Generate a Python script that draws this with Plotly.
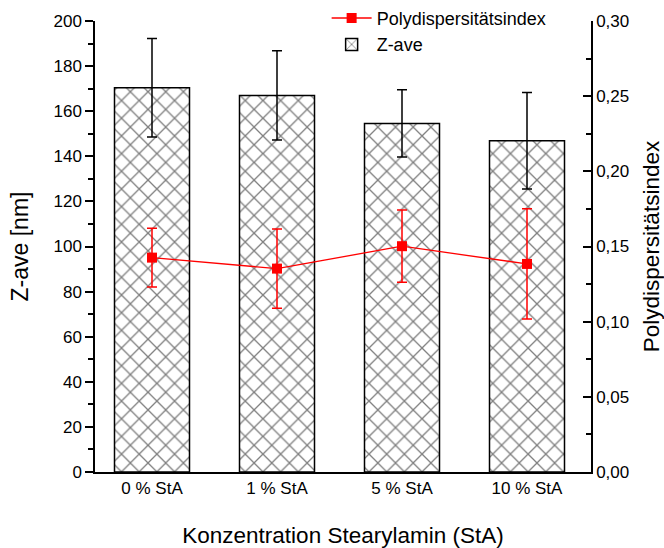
import plotly.graph_objects as go

categories = ["0 % StA", "1 % StA", "5 % StA", "10 % StA"]
zave = [170.4, 167.0, 154.6, 146.9]
zave_err = [21.8, 19.8, 14.9, 21.4]
pdi = [0.1426, 0.1353, 0.1502, 0.1384]
pdi_err = [0.0196, 0.0263, 0.0240, 0.0367]

FONT = "Liberation Sans, Arial, sans-serif"
xpos = list(range(len(categories)))

fig = go.Figure()
fig.add_trace(go.Bar(
    x=xpos, y=zave, name="Z-ave", width=0.6,
    marker=dict(color="white", line=dict(color="black", width=1.5),
                pattern=dict(shape="x", fgcolor="black", bgcolor="white", size=12.5, solidity=0.2)),
    error_y=dict(type="data", array=zave_err, color="black", thickness=1.5, width=5),
    legendrank=2,
))
fig.add_trace(go.Scatter(
    x=xpos, y=pdi, name="Polydispersitätsindex", yaxis="y2", mode="lines+markers",
    line=dict(color="red", width=1.3),
    marker=dict(symbol="square", size=10, color="red"),
    error_y=dict(type="data", array=pdi_err, color="red", thickness=1.5, width=5),
    legendrank=1,
))

fig.update_layout(
    width=664, height=548,
    margin=dict(l=95, r=73, t=21, b=76, autoexpand=False),
    paper_bgcolor="white", plot_bgcolor="white",
    separators=", ",
    font=dict(family=FONT, size=16, color="black"),
    showlegend=True,
    legend=dict(x=0.467, y=1.047, xanchor="left", yanchor="top",
                bgcolor="rgba(0,0,0,0)", font=dict(size=18), tracegroupgap=0,
                itemwidth=40),
    xaxis=dict(range=[-0.456, 3.512], tickmode="array", tickvals=xpos, ticktext=categories,
               showline=True, linecolor="black", linewidth=1.5, ticks="",
               showgrid=False, zeroline=False, automargin=False,
               tickfont=dict(size=17),
               title=dict(text="Konzentration Stearylamin (StA)", font=dict(size=22.5), standoff=30)),
    yaxis=dict(range=[0, 200], dtick=20, tick0=0,
               showline=True, linecolor="black", linewidth=1.5,
               ticks="outside", ticklen=8, tickwidth=1.5, tickcolor="black",
               minor=dict(dtick=10, ticks="outside", ticklen=5, tickwidth=1.5, tickcolor="black"),
               showgrid=False, zeroline=False, tickfont=dict(size=17), automargin=False,
               title=dict(text="Z-ave [nm]", font=dict(size=23), standoff=18)),
    yaxis2=dict(range=[0, 0.3], dtick=0.05, tick0=0, tickformat=".2f", overlaying="y", side="right",
                showline=True, linecolor="black", linewidth=1.5,
                ticks="inside", ticklen=8, tickwidth=1.5, tickcolor="black",
                minor=dict(dtick=0.025, ticks="inside", ticklen=5, tickwidth=1.5, tickcolor="black"),
                showgrid=False, zeroline=False, tickfont=dict(size=17), automargin=False,
                title=dict(text="Polydispersitätsindex", font=dict(size=22.5), standoff=25)),
)

fig.write_html("out.html")
